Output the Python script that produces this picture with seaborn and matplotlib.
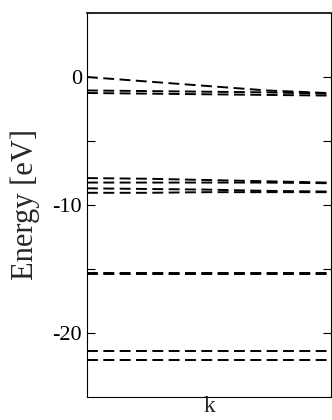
import numpy as np
import pandas as pd
import matplotlib
matplotlib.use("Agg")
import matplotlib.pyplot as plt
import seaborn as sns

# k-path sample points
k_points = [0.0, 0.25, 0.5, 0.75, 1.0]

# band energies (eV)
band_1 = [0.0, -0.35, -0.7, -1.05, -1.25]
band_2 = [-1.05, -1.1, -1.15, -1.2, -1.3]
band_3 = [-1.25, -1.3, -1.35, -1.4, -1.45]
band_4 = [-7.9, -7.95, -8.05, -8.15, -8.25]
band_5 = [-8.25, -8.25, -8.25, -8.25, -8.3]
band_6 = [-8.7, -8.75, -8.8, -8.9, -8.95]
band_7 = [-9.05, -9.05, -9.0, -9.0, -9.0]
band_8 = [-15.3, -15.3, -15.3, -15.3, -15.3]
band_9 = [-15.4, -15.4, -15.4, -15.4, -15.4]
band_10 = [-21.4, -21.4, -21.4, -21.4, -21.4]
band_11 = [-22.1, -22.1, -22.1, -22.1, -22.1]

bands = [band_1, band_2, band_3, band_4, band_5, band_6, band_7,
         band_8, band_9, band_10, band_11]

rows = []
for i, b in enumerate(bands):
    for k, e in zip(k_points, b):
        rows.append({"band": i, "k": k, "E": e})
df = pd.DataFrame(rows)

sns.set_style("white")
plt.rcParams['font.family'] = ['Liberation Serif', 'DejaVu Serif']

fig = plt.figure(figsize=(3.32, 4.2), dpi=100)
ax = fig.add_axes([0.262, 0.055, 0.736, 0.914])

for i in range(len(bands)):
    sub = df[df["band"] == i]
    sns.lineplot(data=sub, x="k", y="E", ax=ax, color="black", lw=1.4,
                 dashes=False, estimator=None, sort=True)
for line in ax.lines:
    line.set_dashes((5.6, 2.8))

ax.set_xlim(0, 1.02)
ax.set_ylim(-25, 5)
ax.set_yticks([0, -5, -10, -15, -20])
ax.set_yticklabels(["0", "", "-10", "", "-20"])
ax.set_xticks([])
ax.tick_params(axis="y", direction="in", length=6, width=0.8, left=True,
               right=True, labelsize=16, pad=3.5, colors="black")
ax.set_xlabel("k", fontsize=17, labelpad=-1)
ax.set_ylabel("Energy [eV]", fontsize=22, labelpad=9)
for s in ax.spines.values():
    s.set_color("black")
    s.set_linewidth(0.8)
ax.spines["top"].set_linewidth(1.2)

fig.savefig("out.png", dpi=100)
